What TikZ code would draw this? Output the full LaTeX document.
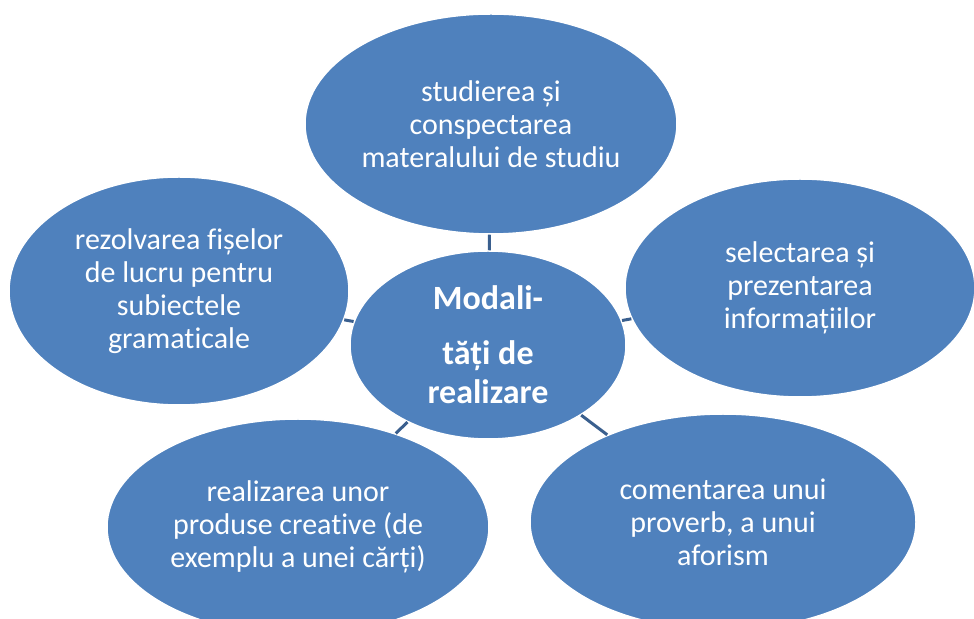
\documentclass[tikz,border=0pt]{standalone}
\usepackage{fontspec}
\setmainfont{Carlito}[Ligatures=NoCommon]
\usetikzlibrary{shapes.geometric}
\definecolor{bubblefill}{HTML}{4F81BD}
\definecolor{linkcol}{HTML}{3A5F8E}
\begin{document}
\begin{tikzpicture}[x=0.5pt,y=-0.5pt,
    bubble/.style={ellipse,fill=bubblefill,draw=white,line width=0.75pt,
      text=white,align=center,inner sep=0pt,
      font=\fontsize{15}{16.5}\selectfont},
    hub/.style={bubble,font=\fontsize{17}{19.5}\selectfont\bfseries}]
      \clip (0,0) rectangle (974,619);
      \draw
        (488,345) node[hub,minimum width=138pt,minimum height=94pt] (0){Modali-\\[8pt]tăți de\\realizare}
        (491,124) node[bubble,minimum width=186pt,minimum height=110pt] (1){studierea și\\conspectarea\\materalului de studiu}
        (800,288) node[bubble,minimum width=175pt,minimum height=109pt] (2){selectarea și\\prezentarea\\informațiilor}
        (723,522) node[bubble,minimum width=193pt,minimum height=108pt] (3){comentarea unui\\proverb, a unui\\aforism}
        (298,527) node[bubble,minimum width=191pt,minimum height=108pt] (4){realizarea unor\\produse creative (de\\exemplu a unei cărți)}
        (179,291) node[bubble,minimum width=170pt,minimum height=114pt] (5){rezolvarea fișelor\\de lucru pentru\\subiectele\\gramaticale};
      \begin{scope}[linkcol,line width=1.5pt]
        \draw (0) to (1);
        \draw (0) to (2);
        \draw (0) to (3);
        \draw (0) to (4);
        \draw (0) to (5);
      \end{scope}
    \end{tikzpicture}
\end{document}
